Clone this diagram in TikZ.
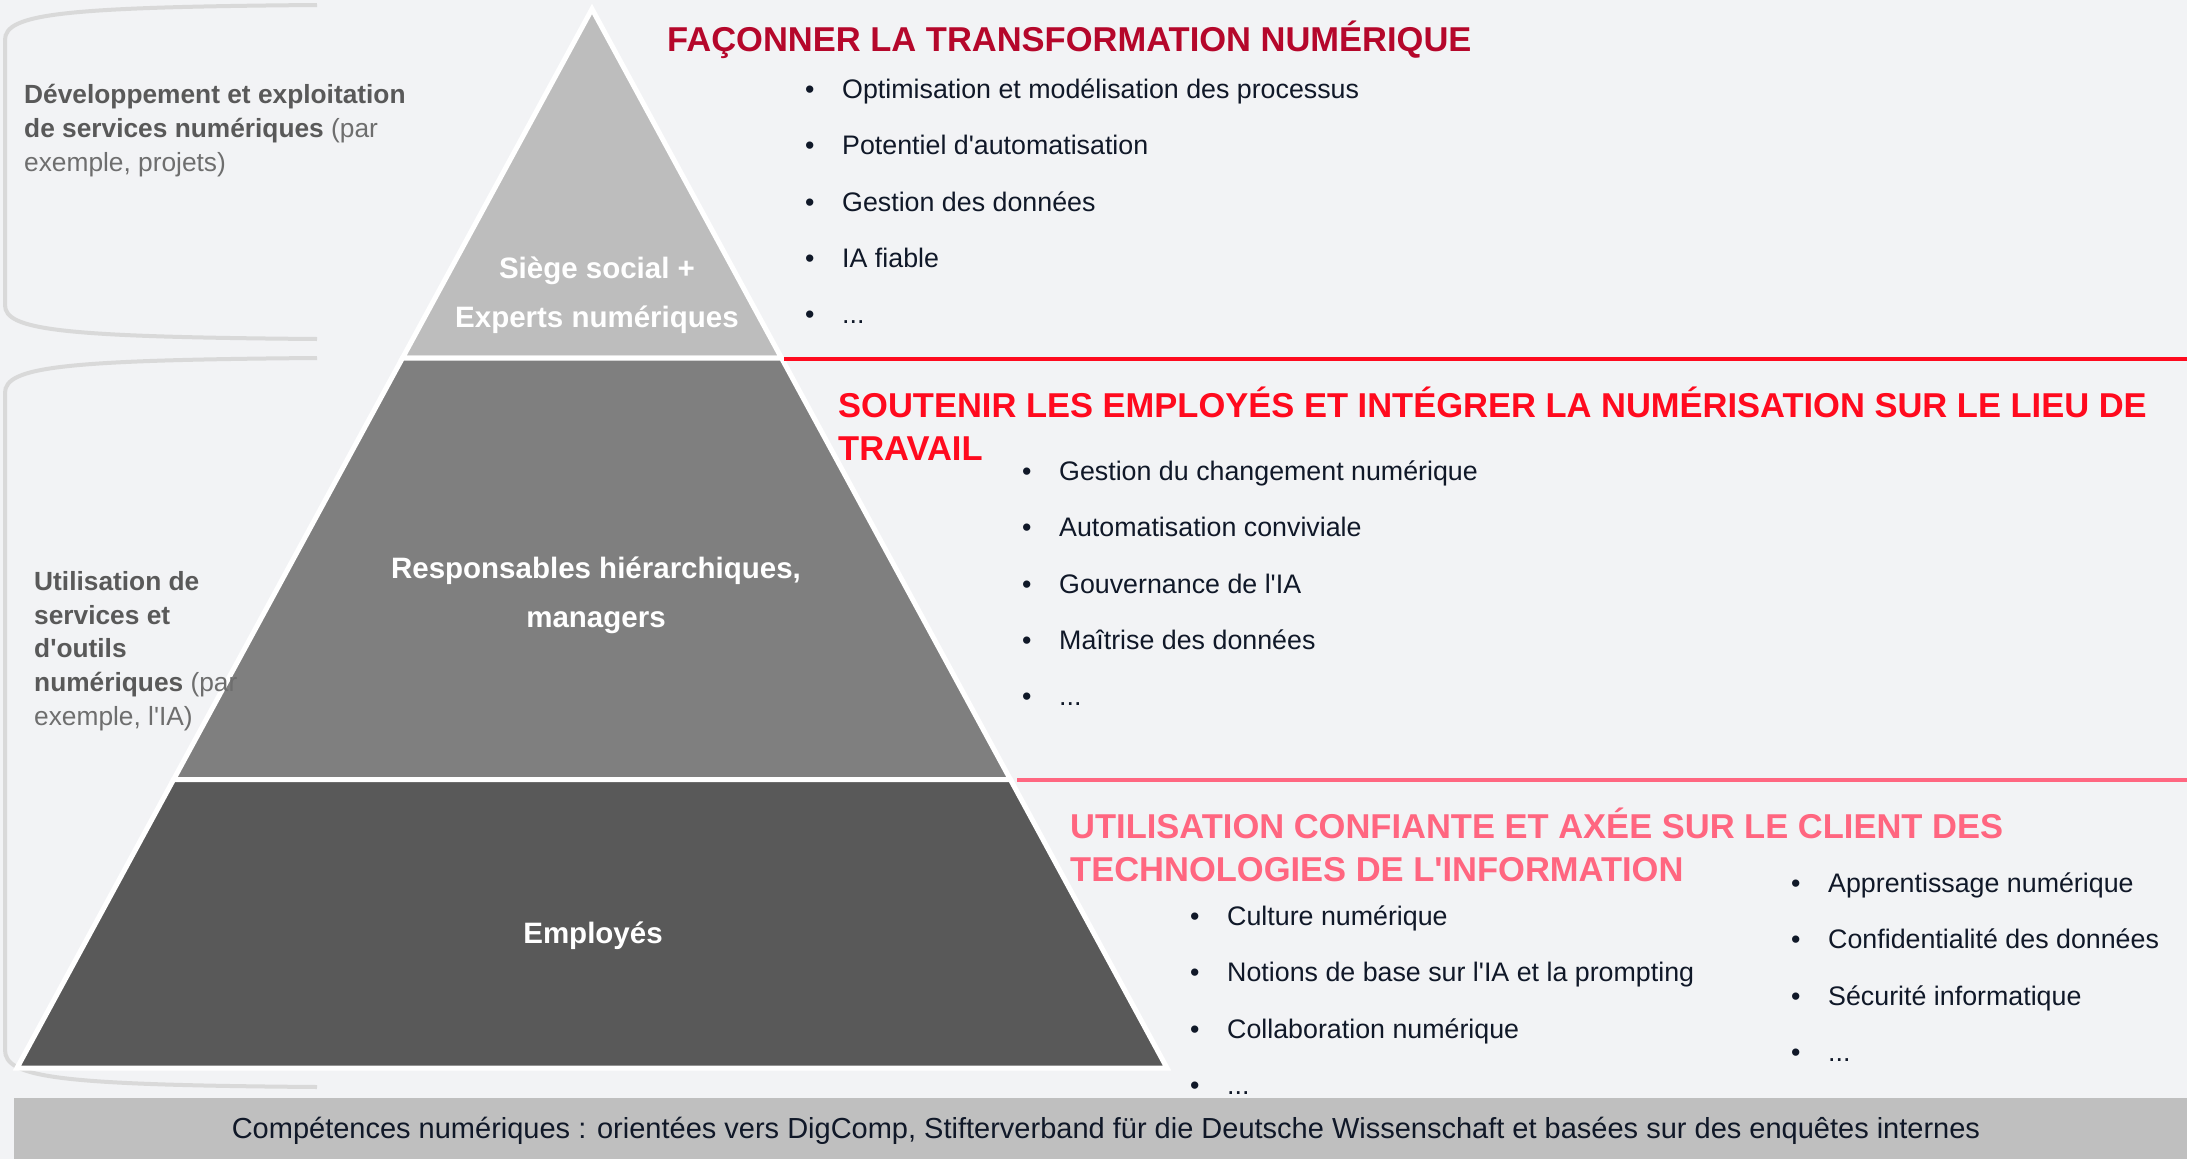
\documentclass[tikz,border=0pt]{standalone}
\usepackage{fontspec}
\setmainfont{Liberation Sans}
\usepackage{xcolor}
\usetikzlibrary{positioning}

\definecolor{bgc}{HTML}{F2F3F5}
\definecolor{tierA}{HTML}{BDBDBD}
\definecolor{tierB}{HTML}{7F7F7F}
\definecolor{tierC}{HTML}{595959}
\definecolor{barc}{HTML}{BFBFBF}
\definecolor{brkc}{HTML}{D9D9D9}
\definecolor{ink}{HTML}{101828}
\definecolor{sidebold}{HTML}{595959}
\definecolor{sidereg}{HTML}{6E6E6E}
\definecolor{redA}{HTML}{B5072B}
\definecolor{redB}{HTML}{FF0A1E}
\definecolor{redC}{HTML}{FF6680}

\newcommand{\itemfont}{\fontsize{26.8}{32}\selectfont}
\newcommand{\ttlfont}{\fontsize{34.5}{42.5}\selectfont\bfseries}
\newcommand{\pyrfont}{\fontsize{29.5}{49}\selectfont\bfseries}
\newcommand{\sidefont}{\fontsize{26.3}{33.6}\selectfont}
\newcommand{\barfont}{\fontsize{29}{34}\selectfont}
\newcommand{\bul}{\makebox[37pt][l]{•}}
\newcommand{\aq}{\textquotesingle}

\begin{document}
\begin{tikzpicture}[
  x=1pt,y=-1pt,
  tier/.style={draw=white,line width=5pt},
  brk/.style={draw=brkc,line width=4pt},
  lbl/.style={text=white,font=\pyrfont,align=center},
  side/.style={anchor=base west,inner sep=0pt,align=left,font=\sidefont},
  ttl/.style={anchor=base west,inner sep=0pt,align=left,font=\ttlfont},
  item/.style={anchor=north west,inner sep=0pt,text height=20pt,text depth=6pt,text=ink,font=\itemfont},
  sep/.style={line width=4pt}
]
\fill[bgc] (0,0) rectangle (2187,1159);
\useasboundingbox (0,0) rectangle (2187,1159);

% side brackets
\draw[brk] (317,5) .. controls (60,7) and (5,14) .. (5,40) -- (5,305) .. controls (5,330) and (60,337) .. (317,339);
\draw[brk] (317,358) .. controls (60,360) and (5,367) .. (5,393) -- (5,1050) .. controls (5,1078) and (60,1085) .. (317,1087);

% pyramid
\draw[tier,fill=tierA] (592,9) -- (781.5,358) -- (402.5,358) -- cycle;
\draw[tier,fill=tierB] (402.5,358) -- (781.5,358) -- (1010.4,779.5) -- (173.6,779.5) -- cycle;
\draw[tier,fill=tierC] (173.6,779.5) -- (1010.4,779.5) -- (1167,1068) -- (17,1068) -- cycle;

\node[lbl] (hq) at (597,295) {Siège social +\\Experts numériques};
\node[lbl] (mgr) at (596,595) {Responsables hiérarchiques,\\managers};
\node[lbl] (emp) at (593,936) {Employés};

% side texts (base = last line)
\node[side] (dev) at (24,171) {\textcolor{sidebold}{\bfseries Développement et exploitation}\\
  \textcolor{sidebold}{\bfseries de services numériques} \textcolor{sidereg}{(par}\\
  \textcolor{sidereg}{exemple, projets)}};
\node[side] (use) at (34,725) {\textcolor{sidebold}{\bfseries Utilisation de}\\
  \textcolor{sidebold}{\bfseries services et}\\
  \textcolor{sidebold}{\bfseries d\aq{}outils}\\
  \textcolor{sidebold}{\bfseries numériques} \textcolor{sidereg}{(par}\\
  \textcolor{sidereg}{exemple, l\aq{}IA)}};

% separators
\coordinate (s1) at (784,359);
\coordinate (s1e) at (2187,359);
\coordinate (s2) at (1017,780);
\coordinate (s2e) at (2187,780);
\draw[sep,redB] (s1) -- (s1e);
\draw[sep,redC] (s2) -- (s2e);

% level 1
\node[ttl,text=redA] (t1) at (667,51) {FAÇONNER LA TRANSFORMATION NUMÉRIQUE};
\node[item] (a1) at (805,78) {\bul Optimisation et modélisation des processus};
\node[item,below right=30pt and 0pt of a1.south west] (a2) {\bul Potentiel d\aq{}automatisation};
\node[item,below right=30pt and 0pt of a2.south west] (a3) {\bul Gestion des données};
\node[item,below right=30pt and 0pt of a3.south west] (a4) {\bul IA fiable};
\node[item,below right=30pt and 0pt of a4.south west] (a5) {\bul ...};

% level 2
\node[ttl,text=redB] (t2) at (838,460) {SOUTENIR LES EMPLOYÉS ET INTÉGRER LA NUMÉRISATION SUR LE LIEU DE\\TRAVAIL};
\node[item] (b1) at (1022,460) {\bul Gestion du changement numérique};
\node[item,below right=30pt and 0pt of b1.south west] (b2) {\bul Automatisation conviviale};
\node[item,below right=30pt and 0pt of b2.south west] (b3) {\bul Gouvernance de l\aq{}IA};
\node[item,below right=30pt and 0pt of b3.south west] (b4) {\bul Maîtrise des données};
\node[item,below right=30pt and 0pt of b4.south west] (b5) {\bul ...};

% level 3
\node[ttl,text=redC] (t3) at (1070,881) {UTILISATION CONFIANTE ET AXÉE SUR LE CLIENT DES\\TECHNOLOGIES DE L\aq{}INFORMATION};
\node[item] (c1) at (1190,905) {\bul Culture numérique};
\node[item,below right=30pt and 0pt of c1.south west] (c2) {\bul Notions de base sur l\aq{}IA et la prompting};
\node[item,below right=30pt and 0pt of c2.south west] (c3) {\bul Collaboration numérique};
\node[item,below right=30pt and 0pt of c3.south west] (c4) {\bul ...};
\node[item] (d1) at (1791,872) {\bul Apprentissage numérique};
\node[item,below right=30pt and 0pt of d1.south west] (d2) {\bul Confidentialité des données};
\node[item,below right=30pt and 0pt of d2.south west] (d3) {\bul Sécurité informatique};
\node[item,below right=30pt and 0pt of d3.south west] (d4) {\bul ...};

% footer bar
\fill[barc] (14,1098) rectangle (2187,1159);
\node[text=ink,font=\barfont] (foot) at (1106,1131) {Compétences numériques : orientées vers DigComp, Stifterverband für die Deutsche Wissenschaft et basées sur des enquêtes internes};
\end{tikzpicture}
\end{document}
